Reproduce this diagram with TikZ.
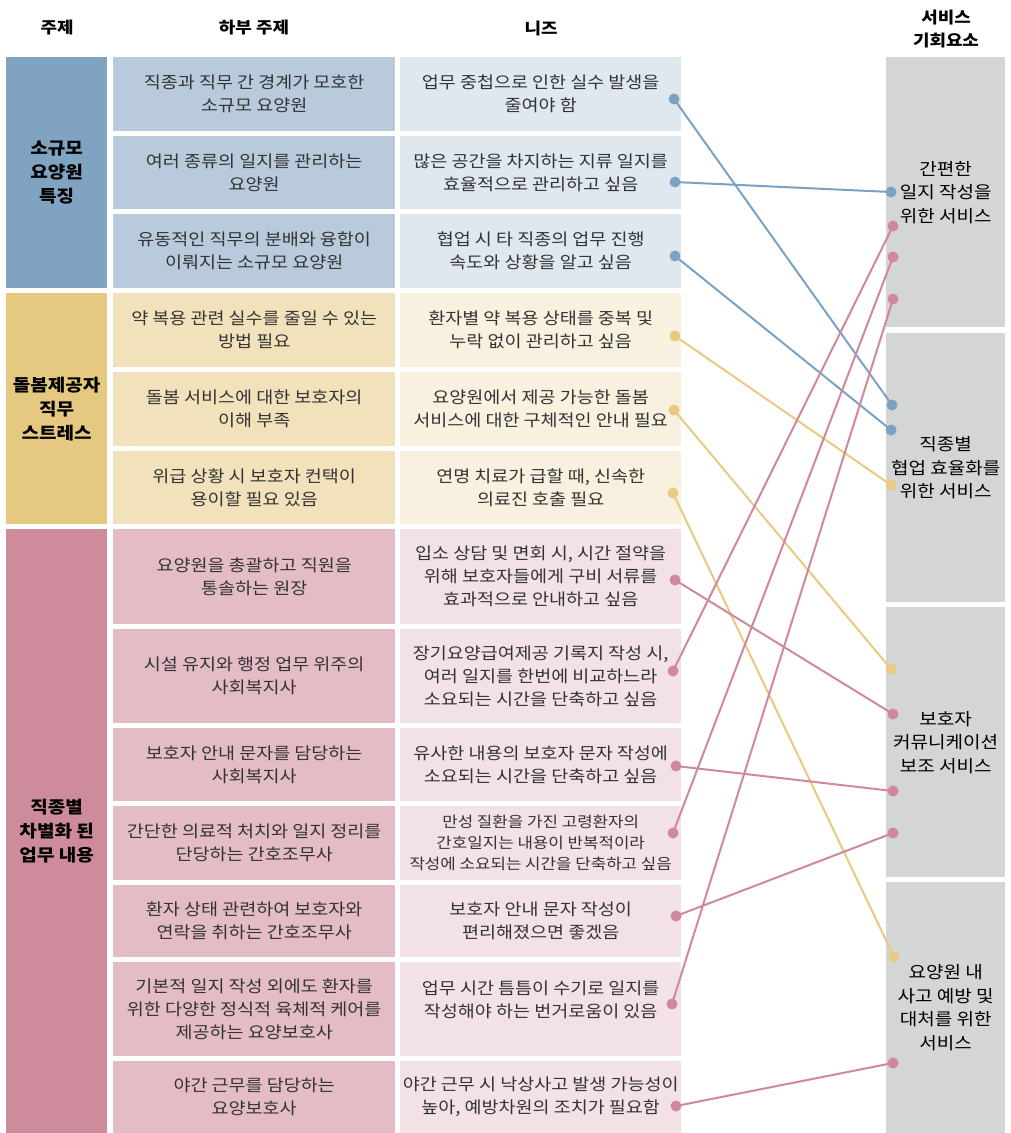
\documentclass[tikz,border=0pt]{standalone}
\usepackage{fontspec}
\setmainfont{Noto Sans CJK KR}[FakeStretch=1.12]
\definecolor{blueD}{HTML}{7FA3C1}
\definecolor{blueM}{HTML}{B8CADC}
\definecolor{blueL}{HTML}{DFE7EF}
\definecolor{yelD}{HTML}{E6C981}
\definecolor{yelM}{HTML}{F2E2BC}
\definecolor{yelL}{HTML}{F8F1E0}
\definecolor{pinkD}{HTML}{CE8B9C}
\definecolor{pinkM}{HTML}{E4BCC5}
\definecolor{pinkL}{HTML}{F2E2E5}
\definecolor{grayS}{HTML}{D4D5D5}
\definecolor{lnB}{HTML}{7BA2C2}
\definecolor{lnY}{HTML}{E8CA80}
\definecolor{lnP}{HTML}{D0899C}
\definecolor{txt}{HTML}{333333}
\tikzset{
  cell/.style={anchor=north west, inner sep=0pt, align=center, text=txt,
    font=\fontsize{16.5}{23}\selectfont},
  subcell/.style={cell, minimum width=282pt},
  needcell/.style={cell, minimum width=281pt},
  theme/.style={anchor=north west, inner sep=0pt, align=center, minimum width=101pt,
    text=black, font=\fontsize{17}{24}\selectfont\bfseries},
  svc/.style={anchor=north west, inner sep=0pt, align=center, minimum width=119pt, fill=grayS,
    text=black, font=\fontsize{17}{23.5}\selectfont},
  head/.style={align=center, text=black, font=\fontsize{16}{23}\selectfont\bfseries},
  link/.style={line width=2pt},
}
\begin{document}
\begin{tikzpicture}[x=1pt,y=-1pt]
\useasboundingbox (0,0) rectangle (1010,1133);
\fill[white] (0,0) rectangle (1010,1133);
% headers
\node[head] (h1) at (57,28) {주제};
\node[head] (h2) at (254,28) {하부 주제};
\node[head] (h3) at (541,28) {니즈};
\node[head] (h4) at (946,29) {서비스\\기회요소};
% themes
\node[theme, fill=blueD, minimum height=231pt] (t1) at (6,57) {소규모\\요양원\\특징};
\node[theme, fill=yelD, minimum height=231pt] (t2) at (6,293) {돌봄제공자\\직무\\스트레스};
\node[theme, fill=pinkD, minimum height=604pt] (t3) at (6,529) {직종별\\차별화 된\\업무 내용};
% sub themes
\node[subcell, fill=blueM, minimum height=74pt] (s1) at (113,57) {직종과 직무 간 경계가 모호한\\소규모 요양원};
\node[subcell, fill=blueM, minimum height=73pt] (s2) at (113,136) {여러 종류의 일지를 관리하는\\요양원};
\node[subcell, fill=blueM, minimum height=74pt] (s3) at (113,214) {유동적인 직무의 분배와 융합이\\이뤄지는 소규모 요양원};
\node[subcell, fill=yelM, minimum height=74pt] (s4) at (113,293) {약 복용 관련 실수를 줄일 수 있는\\방법 필요};
\node[subcell, fill=yelM, minimum height=74pt] (s5) at (113,372) {돌봄 서비스에 대한 보호자의\\이해 부족};
\node[subcell, fill=yelM, minimum height=73pt] (s6) at (113,451) {위급 상황 시 보호자 컨택이\\용이할 필요 있음};
\node[subcell, fill=pinkM, minimum height=95pt] (s7) at (113,529) {요양원을 총괄하고 직원을\\통솔하는 원장};
\node[subcell, fill=pinkM, minimum height=94pt] (s8) at (113,629) {시설 유지와 행정 업무 위주의\\사회복지사};
\node[subcell, fill=pinkM, minimum height=73pt] (s9) at (113,728) {보호자 안내 문자를 담당하는\\사회복지사};
\node[subcell, fill=pinkM, minimum height=74pt] (s10) at (113,806) {간단한 의료적 처치와 일지 정리를\\단당하는 간호조무사};
\node[subcell, fill=pinkM, minimum height=72pt] (s11) at (113,885) {환자 상태 관련하여 보호자와\\연락을 취하는 간호조무사};
\node[subcell, fill=pinkM, minimum height=94pt] (s12) at (113,962) {기본적 일지 작성 외에도 환자를\\위한 다양한 정식적 육체적 케어를\\제공하는 요양보호사};
\node[subcell, fill=pinkM, minimum height=72pt] (s13) at (113,1061) {야간 근무를 담당하는\\요양보호사};
% needs
\node[needcell, fill=blueL, minimum height=74pt] (n1) at (400,57) {업무 중첩으로 인한 실수 발생을\\줄여야 함};
\node[needcell, fill=blueL, minimum height=73pt] (n2) at (400,136) {많은 공간을 차지하는 지류 일지를\\효율적으로 관리하고 싶음};
\node[needcell, fill=blueL, minimum height=74pt] (n3) at (400,214) {협업 시 타 직종의 업무 진행\\속도와 상황을 알고 싶음};
\node[needcell, fill=yelL, minimum height=74pt] (n4) at (400,293) {환자별 약 복용 상태를 중복 및\\누락 없이 관리하고 싶음};
\node[needcell, fill=yelL, minimum height=74pt] (n5) at (400,372) {요양원에서 제공 가능한 돌봄\\서비스에 대한 구체적인 안내 필요};
\node[needcell, fill=yelL, minimum height=73pt] (n6) at (400,451) {연명 치료가 급할 때, 신속한\\의료진 호출 필요};
\node[needcell, fill=pinkL, minimum height=95pt] (n7) at (400,529) {입소 상담 및 면회 시, 시간 절약을\\위해 보호자들에게 구비 서류를\\효과적으로 안내하고 싶음};
\node[needcell, fill=pinkL, minimum height=94pt] (n8) at (400,629) {장기요양급여제공 기록지 작성 시,\\여러 일지를 한번에 비교하느라\\소요되는 시간을 단축하고 싶음};
\node[needcell, fill=pinkL, minimum height=73pt] (n9) at (400,728) {유사한 내용의 보호자 문자 작성에\\소요되는 시간을 단축하고 싶음};
\node[needcell, fill=pinkL, minimum height=74pt, font=\fontsize{15}{21}\selectfont] (n10) at (400,806) {만성 질환을 가진 고령환자의\\간호일지는 내용이 반복적이라\\작성에 소요되는 시간을 단축하고 싶음};
\node[needcell, fill=pinkL, minimum height=72pt] (n11) at (400,885) {보호자 안내 문자 작성이\\편리해졌으면 좋겠음};
\node[needcell, fill=pinkL, minimum height=94pt] (n12) at (400,962) {};
\node[cell, anchor=center] (n12t) at ([yshift=9pt]n12.center) {업무 시간 틈틈이 수기로 일지를\\작성해야 하는 번거로움이 있음};
\node[needcell, fill=pinkL, minimum height=72pt] (n13) at (400,1061) {야간 근무 시 낙상사고 발생 가능성이\\높아, 예방차원의 조치가 필요함};
% services
\node[svc, minimum height=270pt] (v1) at (886,57) {간편한\\일지 작성을\\위한 서비스};
\node[svc, minimum height=269pt] (v2) at (886,333) {직종별\\협업 효율화를\\위한 서비스};
\node[svc, minimum height=270pt] (v3) at (886,607) {보호자\\커뮤니케이션\\보조 서비스};
\node[svc, minimum height=251pt] (v4) at (886,882) {요양원 내\\사고 예방 및\\대처를 위한\\서비스};
% connector endpoints
\coordinate (d1) at (674,99);
\coordinate (d2) at (675,182);
\coordinate (d3) at (675,256);
\coordinate (d4) at (675,336);
\coordinate (d5) at (674,410);
\coordinate (d6) at (673,493);
\coordinate (d7) at (675,580);
\coordinate (d8) at (673,671);
\coordinate (d9) at (676,766);
\coordinate (d10) at (673,833);
\coordinate (d11) at (676,916);
\coordinate (d12) at (672,1004);
\coordinate (d13) at (676,1106);
\coordinate (e1) at (891,192);
\coordinate (e2) at (893,226);
\coordinate (e3) at (893,257);
\coordinate (e4) at (893,299);
\coordinate (e5) at (892,405);
\coordinate (e6) at (891,430);
\coordinate (e7) at (891,485);
\coordinate (e8) at (891,669);
\coordinate (e9) at (893,714);
\coordinate (e10) at (893,791);
\coordinate (e11) at (893,833);
\coordinate (e12) at (894,957);
\coordinate (e13) at (893,1063);
% links
\draw[link, lnB] (d1) -- (e5);
\draw[link, lnB] (d2) -- (e1);
\draw[link, lnB] (d3) -- (e6);
\draw[link, lnY] (d4) -- (e7);
\draw[link, lnY] (d5) -- (e8);
\draw[link, lnY] (d6) -- (e12);
\draw[link, lnP] (d7) -- (e9);
\draw[link, lnP] (d8) -- (e2);
\draw[link, lnP] (d9) -- (e10);
\draw[link, lnP] (d10) -- (e3);
\draw[link, lnP] (d11) -- (e11);
\draw[link, lnP] (d12) -- (e4);
\draw[link, lnP] (d13) -- (e13);
% dots
\foreach \p in {d1,d2,d3,e1,e5,e6} \fill[lnB] (\p) circle (5.5pt);
\foreach \p in {d4,d5,d6,e7,e8,e12} \fill[lnY] (\p) circle (5.5pt);
\foreach \p in {d7,d8,d9,d10,d11,d12,d13,e2,e3,e4,e9,e10,e11,e13} \fill[lnP] (\p) circle (5.5pt);
\end{tikzpicture}
\end{document}
